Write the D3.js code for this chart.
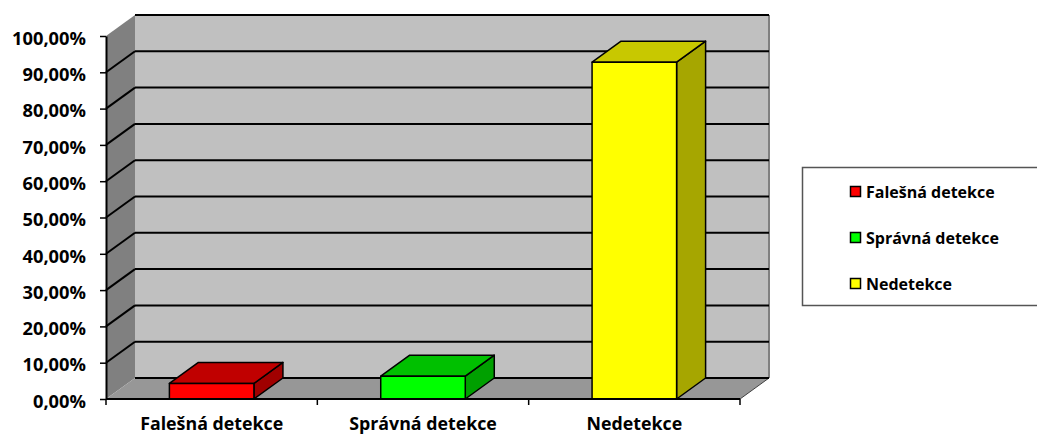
<!DOCTYPE html>
<html>
<head>
<meta charset="utf-8">
<script src="https://cdn.jsdelivr.net/npm/d3@7.9.0/dist/d3.min.js"></script>
<style>
  body { margin: 0; background: #fff; }
  svg text { font-family: "Open Sans", "Noto Sans", sans-serif; font-weight: 700; fill: #000; }
</style>
</head>
<body>
<svg id="chart" width="1037" height="434"></svg>
<script>
// data
const categories = ['Falešná detekce', 'Správná detekce', 'Nedetekce'];
const values = [4.3, 6.3, 92.8];
const tickValues = [0, 10, 20, 30, 40, 50, 60, 70, 80, 90, 100];
const frontColors = ['#ff0000', '#00ff00', '#ffff00'];
const topColors = ['#c00000', '#00c000', '#c8c800'];
const sideColors = ['#a00000', '#00a000', '#a6a600'];

const svg = d3.select('#chart');

// front plane + depth offset of the 3d box
const x0 = 106, x1 = 740, yBase = 399, yTop = 36;
const dx = 29, dy = -21;

const x = d3.scaleBand().domain(categories).range([x0, x1]).paddingInner(0.6).paddingOuter(0.3);
const y = d3.scaleLinear().domain([0, 100]).range([yBase, yTop]);

const pts = (arr) => arr.map(p => p.join(',')).join(' ');

// walls
svg.append('polygon')
  .attr('points', pts([[x0 + dx, y(100) + dy], [x1 + dx, y(100) + dy], [x1 + dx, y(0) + dy], [x0 + dx, y(0) + dy]]))
  .attr('fill', '#c0c0c0');
svg.append('polygon')
  .attr('points', pts([[x0, y(100)], [x0 + dx, y(100) + dy], [x0 + dx, y(0) + dy], [x0, y(0)]]))
  .attr('fill', '#808080');
svg.append('polygon')
  .attr('points', pts([[x0, y(0)], [x1, y(0)], [x1 + dx, y(0) + dy], [x0 + dx, y(0) + dy]]))
  .attr('fill', '#979797');

// back wall right edge
svg.append('line')
  .attr('x1', x1 + dx).attr('x2', x1 + dx)
  .attr('y1', y(100) + dy).attr('y2', y(0) + dy)
  .attr('stroke', '#808080').attr('stroke-width', 2);
// floor right edge
svg.append('line')
  .attr('x1', x1).attr('y1', y(0))
  .attr('x2', x1 + dx).attr('y2', y(0) + dy)
  .attr('stroke', '#404040').attr('stroke-width', 1);

// gridlines
const grid = svg.append('g').attr('stroke', '#000').attr('stroke-width', 2);
tickValues.forEach(v => {
  grid.append('line')
    .attr('x1', x0 + dx).attr('x2', x1 + dx)
    .attr('y1', y(v) + dy).attr('y2', y(v) + dy);
  if (v > 0 && v < 100) {
    grid.append('line')
      .attr('x1', x0).attr('y1', y(v))
      .attr('x2', x0 + dx).attr('y2', y(v) + dy);
  }
});

// bars
const bars = svg.append('g').attr('stroke', '#000').attr('stroke-width', 1.5).attr('stroke-linejoin', 'round');
categories.forEach((c, i) => {
  const bl = x(c), br = x(c) + x.bandwidth();
  const bt = y(values[i]), bb = y(0);
  bars.append('polygon')
    .attr('points', pts([[br, bt], [br + dx, bt + dy], [br + dx, bb + dy], [br, bb]]))
    .attr('fill', sideColors[i]);
  bars.append('polygon')
    .attr('points', pts([[bl, bt], [bl + dx, bt + dy], [br + dx, bt + dy], [br, bt]]))
    .attr('fill', topColors[i]);
  bars.append('rect')
    .attr('x', bl).attr('y', bt)
    .attr('width', br - bl).attr('height', bb - bt)
    .attr('fill', frontColors[i]);
});

// y axis
const yAxis = svg.append('g')
  .attr('transform', `translate(${x0},0)`)
  .call(d3.axisLeft(y).tickValues(tickValues).tickSize(6).tickSizeOuter(0).tickPadding(14)
    .tickFormat(d => d.toFixed(2).replace('.', ',') + '%'));
yAxis.select('.domain').attr('stroke', '#000').attr('stroke-width', 2);
yAxis.selectAll('.tick line').attr('stroke', '#000').attr('stroke-width', 1.5);
yAxis.selectAll('.tick text').attr('font-size', 18.3).attr('dy', '0.45em');

// x axis
const xAxis = svg.append('g');
xAxis.append('line')
  .attr('x1', x0).attr('x2', x1).attr('y1', yBase).attr('y2', yBase)
  .attr('stroke', '#000').attr('stroke-width', 2);
const step = x.step();
d3.range(categories.length + 1).forEach(k => {
  const tx = x0 + k * step;
  xAxis.append('line')
    .attr('x1', tx).attr('x2', tx).attr('y1', yBase).attr('y2', yBase + 6)
    .attr('stroke', '#000').attr('stroke-width', 1.5);
});
xAxis.selectAll('text.cat')
  .data(categories)
  .join('text')
  .attr('class', 'cat')
  .attr('x', d => x(d) + x.bandwidth() / 2)
  .attr('y', 430)
  .attr('text-anchor', 'middle')
  .attr('font-size', 17.8)
  .text(d => d);

// legend
const legend = svg.append('g');
legend.append('rect')
  .attr('x', 802.5).attr('y', 167.5).attr('width', 260).attr('height', 138)
  .attr('fill', '#fff').attr('stroke', '#555').attr('stroke-width', 1.5);
const legendY = [192, 238, 284];
categories.forEach((c, i) => {
  legend.append('rect')
    .attr('x', 850.5).attr('y', legendY[i] - 5.5).attr('width', 10).attr('height', 10)
    .attr('fill', frontColors[i]).attr('stroke', '#000').attr('stroke-width', 1.5);
  legend.append('text')
    .attr('x', 866).attr('y', legendY[i]).attr('dy', '0.35em')
    .attr('font-size', 16)
    .text(c);
});
</script>
</body>
</html>
